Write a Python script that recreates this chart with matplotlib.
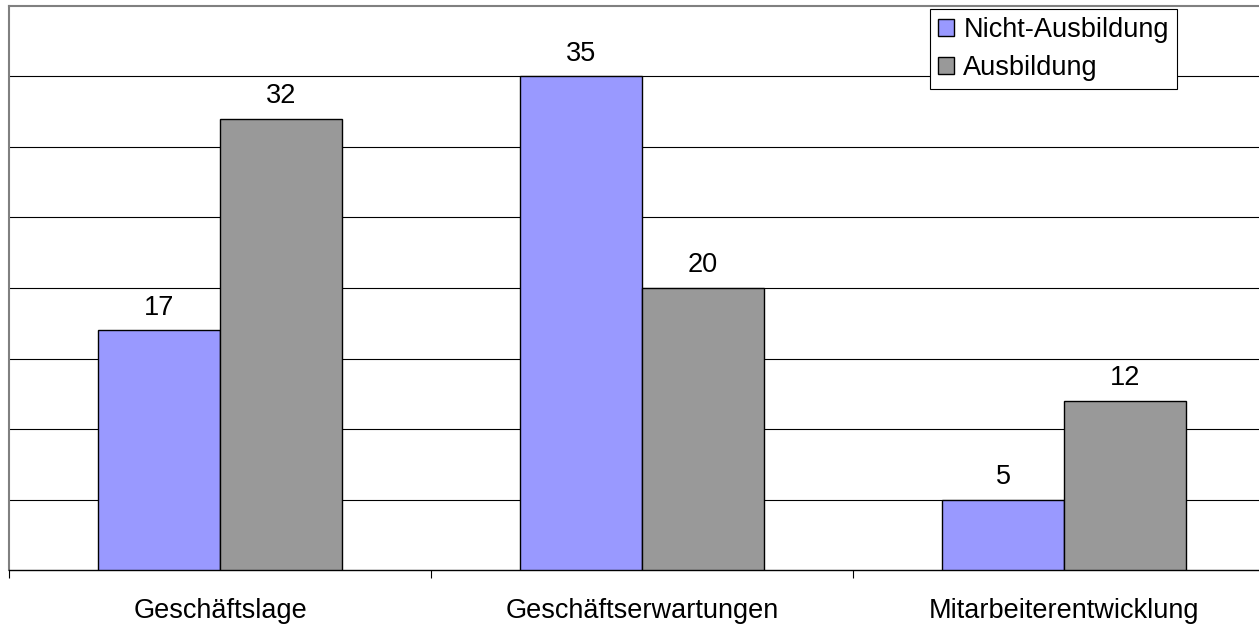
import numpy as np
import matplotlib
matplotlib.use("Agg")
import matplotlib.pyplot as plt

categories = ["Geschäftslage", "Geschäftserwartungen", "Mitarbeiterentwicklung"]
nicht_ausbildung = [17, 35, 5]
ausbildung = [32, 20, 12]
series_names = ["Nicht-Ausbildung", "Ausbildung"]

plt.rcParams['font.family'] = ['Liberation Sans', 'DejaVu Sans']

fig = plt.figure(figsize=(12.59, 6.27), dpi=100)
# plot area runs a bit past the right edge, as in the original
ax = fig.add_axes([9 / 1259, 57 / 627, 1266 / 1259, 564 / 627])

x = np.arange(len(categories))
w = 0.288
b1 = ax.bar(x - w / 2, nicht_ausbildung, w, color='#9999FF', edgecolor='black',
            linewidth=1.0, label=series_names[0], zorder=3)
b2 = ax.bar(x + w / 2, ausbildung, w, color='#999999', edgecolor='black',
            linewidth=1.0, label=series_names[1], zorder=3)

for bars, vals in [(b1, nicht_ausbildung), (b2, ausbildung)]:
    for r, v in zip(bars, vals):
        ax.annotate(str(v), (r.get_x() + r.get_width() / 2, v),
                    xytext=(0, 7), textcoords='offset points',
                    ha='center', va='bottom', fontsize=19.5)

ax.set_xlim(-0.5, len(categories) - 0.5)
ax.set_ylim(0, 40)

# gridlines every 5, no y labels
ax.set_yticks(np.arange(5, 40, 5))
ax.yaxis.grid(True, color='black', linewidth=0.8, zorder=0)
ax.tick_params(axis='y', length=0, labelleft=False)

# category boundaries as major ticks, names on minor ticks
ax.set_xticks(np.arange(-0.5, len(categories), 1.0))
ax.set_xticklabels([])
ax.tick_params(axis='x', which='major', direction='out', length=6, width=0.8, color='black')
ax.set_xticks(x, minor=True)
ax.set_xticklabels(categories, minor=True, fontsize=19.5)
ax.tick_params(axis='x', which='minor', length=0, pad=20)

for s in ['top', 'left']:
    ax.spines[s].set_color('#808080')
    ax.spines[s].set_linewidth(1.5)
ax.spines['right'].set_visible(False)
ax.spines['bottom'].set_color('black')
ax.spines['bottom'].set_linewidth(1.0)

leg = ax.legend(loc='upper right', bbox_to_anchor=(1177 / 1259, 1 - 9 / 627),
                bbox_transform=fig.transFigure, fontsize=19.5, frameon=True,
                fancybox=False, edgecolor='black', framealpha=1,
                handlelength=0.6, handleheight=0.6, handletextpad=0.35,
                borderpad=0.3, labelspacing=0.45, borderaxespad=0)
leg.get_frame().set_linewidth(0.8)

fig.savefig("out.png", dpi=100)
